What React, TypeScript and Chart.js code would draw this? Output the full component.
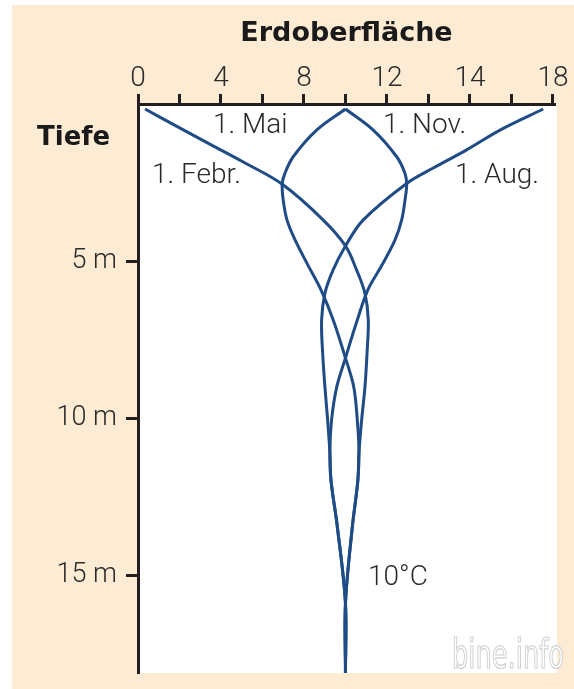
import React, { useEffect, useRef } from "react";
import { Chart, registerables } from "chart.js";

Chart.register(...registerables);

// ---- axis ticks ----
const xTickValues = [0, 2, 4, 6, 8, 10, 12, 14, 16, 18, 20];
const xTickLabels = ["0", "", "4", "", "8", "", "12", "", "14", "", "18"];
const yTickValues = [5, 10, 15];
const yTickLabels = ["5 m", "10 m", "15 m"];

// ---- series: depth (m) and temperature (°C) ----
const febDepth = [0.16, 0.77, 1.31, 1.84, 2.55, 3.69, 4.52, 5.29, 6.03, 6.88, 7.93, 9.01, 10.06, 11.11, 11.97, 13.47, 15.9, 18.12];
const febTemp = [0.34, 2.03, 3.55, 5.05, 6.94, 8.92, 10.0, 10.54, 10.94, 11.1, 11.04, 10.94, 10.78, 10.65, 10.6, 10.33, 10.0, 10.0];

const augDepth = [0.16, 0.83, 1.46, 2.04, 2.53, 3.69, 4.52, 5.29, 6.03, 6.88, 7.93, 9.01, 10.06, 11.11, 11.97, 13.47, 15.9, 18.12];
const augTemp = [19.53, 17.45, 15.84, 14.23, 12.95, 10.86, 10.0, 9.4, 9.01, 8.85, 8.9, 9.01, 9.14, 9.25, 9.3, 9.61, 10.0, 10.0];

const maiDepth = [0.16, 0.83, 1.68, 2.21, 2.56, 3.06, 3.69, 4.33, 5.13, 5.92, 6.88, 8.09, 9.01, 10.06, 11.02, 11.97, 13.47, 15.9, 18.12];
const maiTemp = [10.0, 8.61, 7.48, 7.08, 6.95, 7.0, 7.18, 7.57, 8.19, 8.82, 9.41, 10.0, 10.4, 10.57, 10.65, 10.6, 10.33, 10.0, 10.0];

const novDepth = [0.16, 0.83, 1.68, 2.21, 2.56, 3.06, 3.69, 4.33, 5.13, 5.92, 6.88, 8.09, 9.01, 10.06, 11.02, 11.97, 13.47, 15.9, 18.12];
const novTemp = [10.0, 11.34, 12.47, 12.87, 12.95, 12.87, 12.71, 12.39, 11.76, 11.08, 10.57, 10.0, 9.58, 9.33, 9.25, 9.3, 9.61, 10.0, 10.0];

const seriesNames = ["1. Febr.", "1. Mai", "1. Aug.", "1. Nov."];

const AXIS = "#231f20";
const LINE = "#1f4c86";
const TEXT = "#2a2a2a";
const PEACH = "#fdecd3";
const THIN = '"Roboto", "Liberation Sans", sans-serif';
const BOLD = '"DejaVu Sans", "Liberation Sans", sans-serif';

const toPoints = (d: number[], t: number[]) => d.map((z, i) => ({ x: t[i], y: z }));

const decorPlugin = {
  id: "decor",
  beforeDraw(chart: any) {
    const { ctx, chartArea, width, height } = chart;
    ctx.save();
    ctx.fillStyle = "#ffffff";
    ctx.fillRect(0, 0, width, height);
    ctx.fillStyle = PEACH;
    ctx.fillRect(12, 5, width - 12, height - 5);
    ctx.fillStyle = "#ffffff";
    ctx.fillRect(chartArea.left, chartArea.top, chartArea.right - chartArea.left + 2, chartArea.bottom - chartArea.top);
    ctx.restore();
  },
  afterDraw(chart: any) {
    const { ctx } = chart;
    ctx.save();
    ctx.textBaseline = "alphabetic";
    ctx.textAlign = "left";
    ctx.font = `bold 26px ${BOLD}`;
    ctx.fillStyle = "#1a1a1a";
    ctx.fillText("Tiefe", 37, 145);

    ctx.fillStyle = TEXT;
    ctx.font = `300 28px ${THIN}`;
    const labels: [string, number, number][] = [
      [seriesNames[1], 213, 133],
      [seriesNames[3], 383, 133],
      [seriesNames[0], 152, 183],
      [seriesNames[2], 455, 183],
      ["10°C", 368, 585],
    ];
    labels.forEach(([t, x, y]) => ctx.fillText(t, x, y));

    // watermark
    ctx.font = `40px "Liberation Sans Narrow", "DejaVu Sans Condensed", ${THIN}`;
    const w = ctx.measureText("bine.info").width;
    const target = 112;
    ctx.translate(452, 668);
    ctx.scale(target / w, 1);
    ctx.fillStyle = "rgba(255,255,255,0.9)";
    ctx.fillText("bine.info", 0, 0);
    ctx.strokeStyle = "#cfcfcf";
    ctx.lineWidth = 1.2;
    ctx.strokeText("bine.info", 0, 0);
    ctx.restore();
  },
};

export default function App() {
  const ref = useRef<HTMLCanvasElement | null>(null);

  useEffect(() => {
    document.body.style.margin = "0";
    const canvas = ref.current;
    if (!canvas) return;
    const ds = (d: number[], t: number[], label: string) => ({
      label,
      data: toPoints(d, t),
      showLine: true,
      borderColor: LINE,
      borderWidth: 3,
      pointRadius: 0,
      tension: 0.35,
      fill: false,
    });
    const chart = new Chart(canvas, {
      type: "scatter",
      data: {
        datasets: [
          ds(febDepth, febTemp, seriesNames[0]),
          ds(maiDepth, maiTemp, seriesNames[1]),
          ds(augDepth, augTemp, seriesNames[2]),
          ds(novDepth, novTemp, seriesNames[3]),
        ],
      },
      options: {
        animation: false,
        responsive: false,
        devicePixelRatio: 1,
        layout: { padding: { left: 0, right: 19, top: 0, bottom: 16 } },
        plugins: { legend: { display: false }, tooltip: { enabled: false } },
        scales: {
          x: {
            type: "linear",
            position: "top",
            min: 0,
            max: 20.1,
            afterBuildTicks: (s: any) => {
              s.ticks = xTickValues.map((v) => ({ value: v }));
            },
            afterFit: (s: any) => {
              s.height = 104;
              s.paddingLeft = 0;
              s.paddingRight = 0;
            },
            grid: { drawOnChartArea: false, drawTicks: true, tickLength: 10, tickWidth: 3, tickColor: AXIS },
            border: { display: true, width: 3, color: AXIS },
            ticks: {
              autoSkip: false,
              maxRotation: 0,
              padding: -2,
              color: TEXT,
              font: { family: THIN, size: 28, weight: "300" },
              callback: (v: any) => xTickLabels[xTickValues.indexOf(Number(v))] ?? "",
            },
            title: {
              display: true,
              text: "Erdoberfläche",
              color: "#1a1a1a",
              font: { family: BOLD, size: 27, weight: "bold" },
              padding: { top: 18, bottom: 0 },
            },
          },
          y: {
            type: "linear",
            reverse: true,
            min: 0,
            max: 18.12,
            afterBuildTicks: (s: any) => {
              s.ticks = yTickValues.map((v) => ({ value: v }));
            },
            afterFit: (s: any) => {
              s.width = 138;
              s.paddingTop = 0;
              s.paddingBottom = 0;
            },
            grid: { drawOnChartArea: false, drawTicks: true, tickLength: 12, tickWidth: 3, tickColor: AXIS },
            border: { display: true, width: 3, color: AXIS },
            ticks: {
              autoSkip: false,
              padding: 9,
              color: TEXT,
              font: { family: THIN, size: 27, weight: "300" },
              callback: (v: any) => yTickLabels[yTickValues.indexOf(Number(v))] ?? "",
            },
          },
        },
      },
      plugins: [decorPlugin],
    } as any);
    return () => chart.destroy();
  }, []);

  return (
    <div style={{ width: 574, height: 689, position: "relative" }}>
      <canvas ref={ref} width={574} height={689} style={{ display: "block" }} />
    </div>
  );
}
